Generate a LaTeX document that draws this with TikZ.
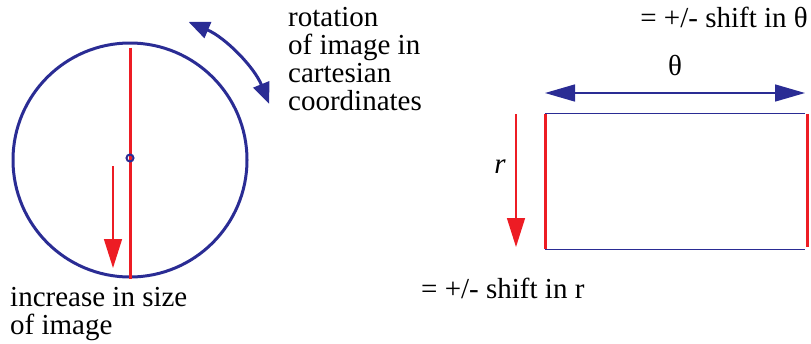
\documentclass[tikz,border=0pt]{standalone}
\usepackage{fontspec}
\setmainfont{Liberation Serif}
\usetikzlibrary{arrows.meta}

\definecolor{polblue}{RGB}{42,44,148}
\definecolor{polred}{RGB}{237,28,36}

\begin{document}
\begin{tikzpicture}[x=1pt,y=-1pt,
    lbl/.style={inner sep=0pt,font=\fontsize{29}{28}\selectfont,align=left},
    bluearrow/.style={polblue,line width=1.5pt,{Triangle[length=30pt,width=17pt]}-{Triangle[length=30pt,width=17pt]}},
    redarrow/.style={polred,line width=1.5pt,-{Triangle[length=29pt,width=18pt]}},
    redbar/.style={polred,line width=3pt}]
    \useasboundingbox (0,0) rectangle (811,343);
    % polar picture
    \node[circle,draw=polblue,line width=3pt,minimum size=234pt,inner sep=0pt] (disc) at (130,160) {};
    \draw[redbar] ([yshift=-6pt]disc.north) -- (disc.south);
    \node[circle,draw=polblue,line width=2pt,minimum size=7pt,inner sep=0pt] (hub) at (130,158) {};
    \coordinate (growtop) at (113,166);
    \coordinate (growtip) at (113,268);
    \draw[redarrow] (growtop) -- (growtip);
    \draw[polblue,line width=3pt,{Triangle[length=21pt,width=17pt]}-{Triangle[length=21pt,width=17pt]}]
      (disc.center) ++(-67:150) arc[start angle=-67,end angle=-22,radius=150];
    \node[lbl,anchor=base west] (rotlbl) at (288,110) {rotation\\of image in\\cartesian\\coordinates};
    \node[lbl,anchor=base west] (sizelbl) at (10,334) {increase in size\\of image};
    % unwrapped picture
    \node[minimum width=261pt,minimum height=135pt,inner sep=0pt] (grid) at (676.5,181.5) {};
    \draw[polblue,line width=1.2pt] ([xshift=-1pt]grid.north west) -- ([xshift=-2pt]grid.north east);
    \draw[polblue,line width=1.2pt] ([xshift=-1pt]grid.south west) -- ([xshift=-2pt]grid.south east);
    \draw[redbar] (grid.north west) -- (grid.south west);
    \draw[redbar] (grid.north east) -- ([yshift=2pt]grid.south east);
    \coordinate (thl) at (545,93);
    \coordinate (thr) at (805,93);
    \draw[bluearrow] (thl) -- (thr);
    \node[lbl,anchor=base] (thlbl) at (675,75) {θ};
    \node[lbl,anchor=base east] (thshift) at (808,27) {= +/- shift in θ};
    \coordinate (rtop) at (516,114);
    \coordinate (rtip) at (516,247);
    \draw[redarrow] (rtop) -- (rtip);
    \node[lbl,anchor=base] (rlbl) at (500,173) {\textit{r}};
    \node[lbl,anchor=base west] (rshift) at (421,298) {= +/- shift in r};
\end{tikzpicture}
\end{document}
